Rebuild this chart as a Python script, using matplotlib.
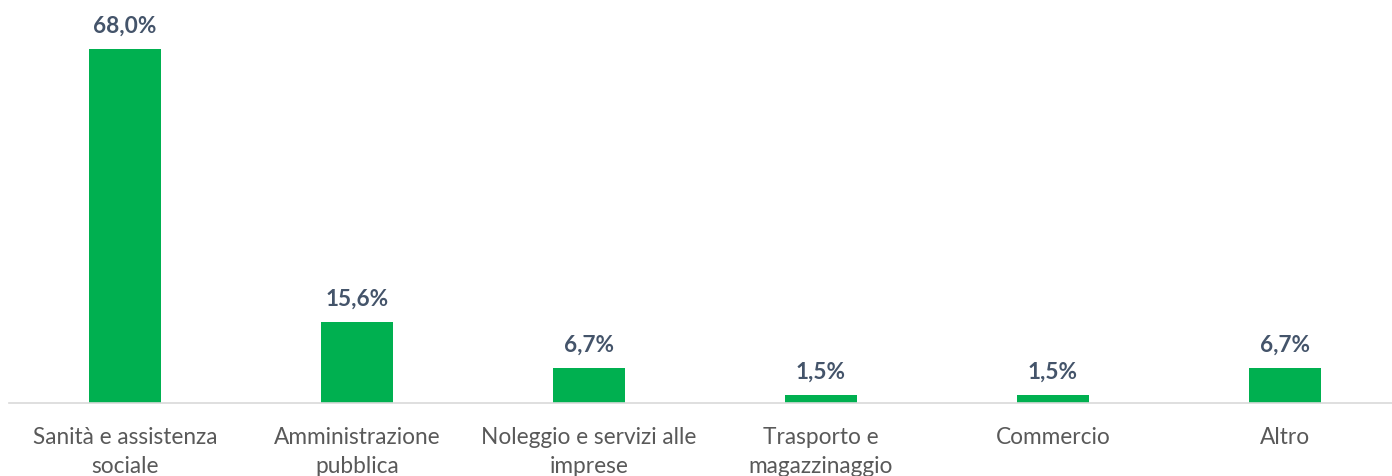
import matplotlib.pyplot as plt
import numpy as np

categories = ["Sanità e assistenza\nsociale", "Amministrazione\npubblica",
              "Noleggio e servizi alle\nimprese", "Trasporto e\nmagazzinaggio",
              "Commercio", "Altro"]
values = [68.0, 15.6, 6.7, 1.5, 1.5, 6.7]
value_labels = ["68,0%", "15,6%", "6,7%", "1,5%", "1,5%", "6,7%"]

BAR_COLOR = "#00B050"
LABEL_COLOR = "#44546A"
TICK_COLOR = "#595959"

plt.rcParams["font.family"] = ["Lato", "DejaVu Sans"]

fig = plt.figure(figsize=(13.92, 4.77), dpi=100)
ax = fig.add_axes([9 / 1392, 1 - 404 / 477, 1383 / 1392, 404 / 477])

x = np.arange(len(categories))
ax.bar(x, values, width=0.31, color=BAR_COLOR, zorder=2)
for xi, v, lab in zip(x, values, value_labels):
    ax.annotate(lab, (xi, v), xytext=(0, 17), textcoords="offset points",
                ha="center", va="center", fontsize=16.3, fontweight="bold",
                color=LABEL_COLOR)

ax.set_xlim(-0.5, 5.461)
ax.set_ylim(0, 77.6)
ax.set_xticks(x)
ax.set_xticklabels(categories, fontsize=16.3, color=TICK_COLOR, linespacing=1.45)
ax.tick_params(axis="x", length=0, pad=16.5)
ax.set_yticks([])
for s in ["top", "right", "left"]:
    ax.spines[s].set_visible(False)
ax.spines["bottom"].set_color("#D9D9D9")
ax.spines["bottom"].set_linewidth(1.2)

plt.savefig("out.png", dpi=100)
